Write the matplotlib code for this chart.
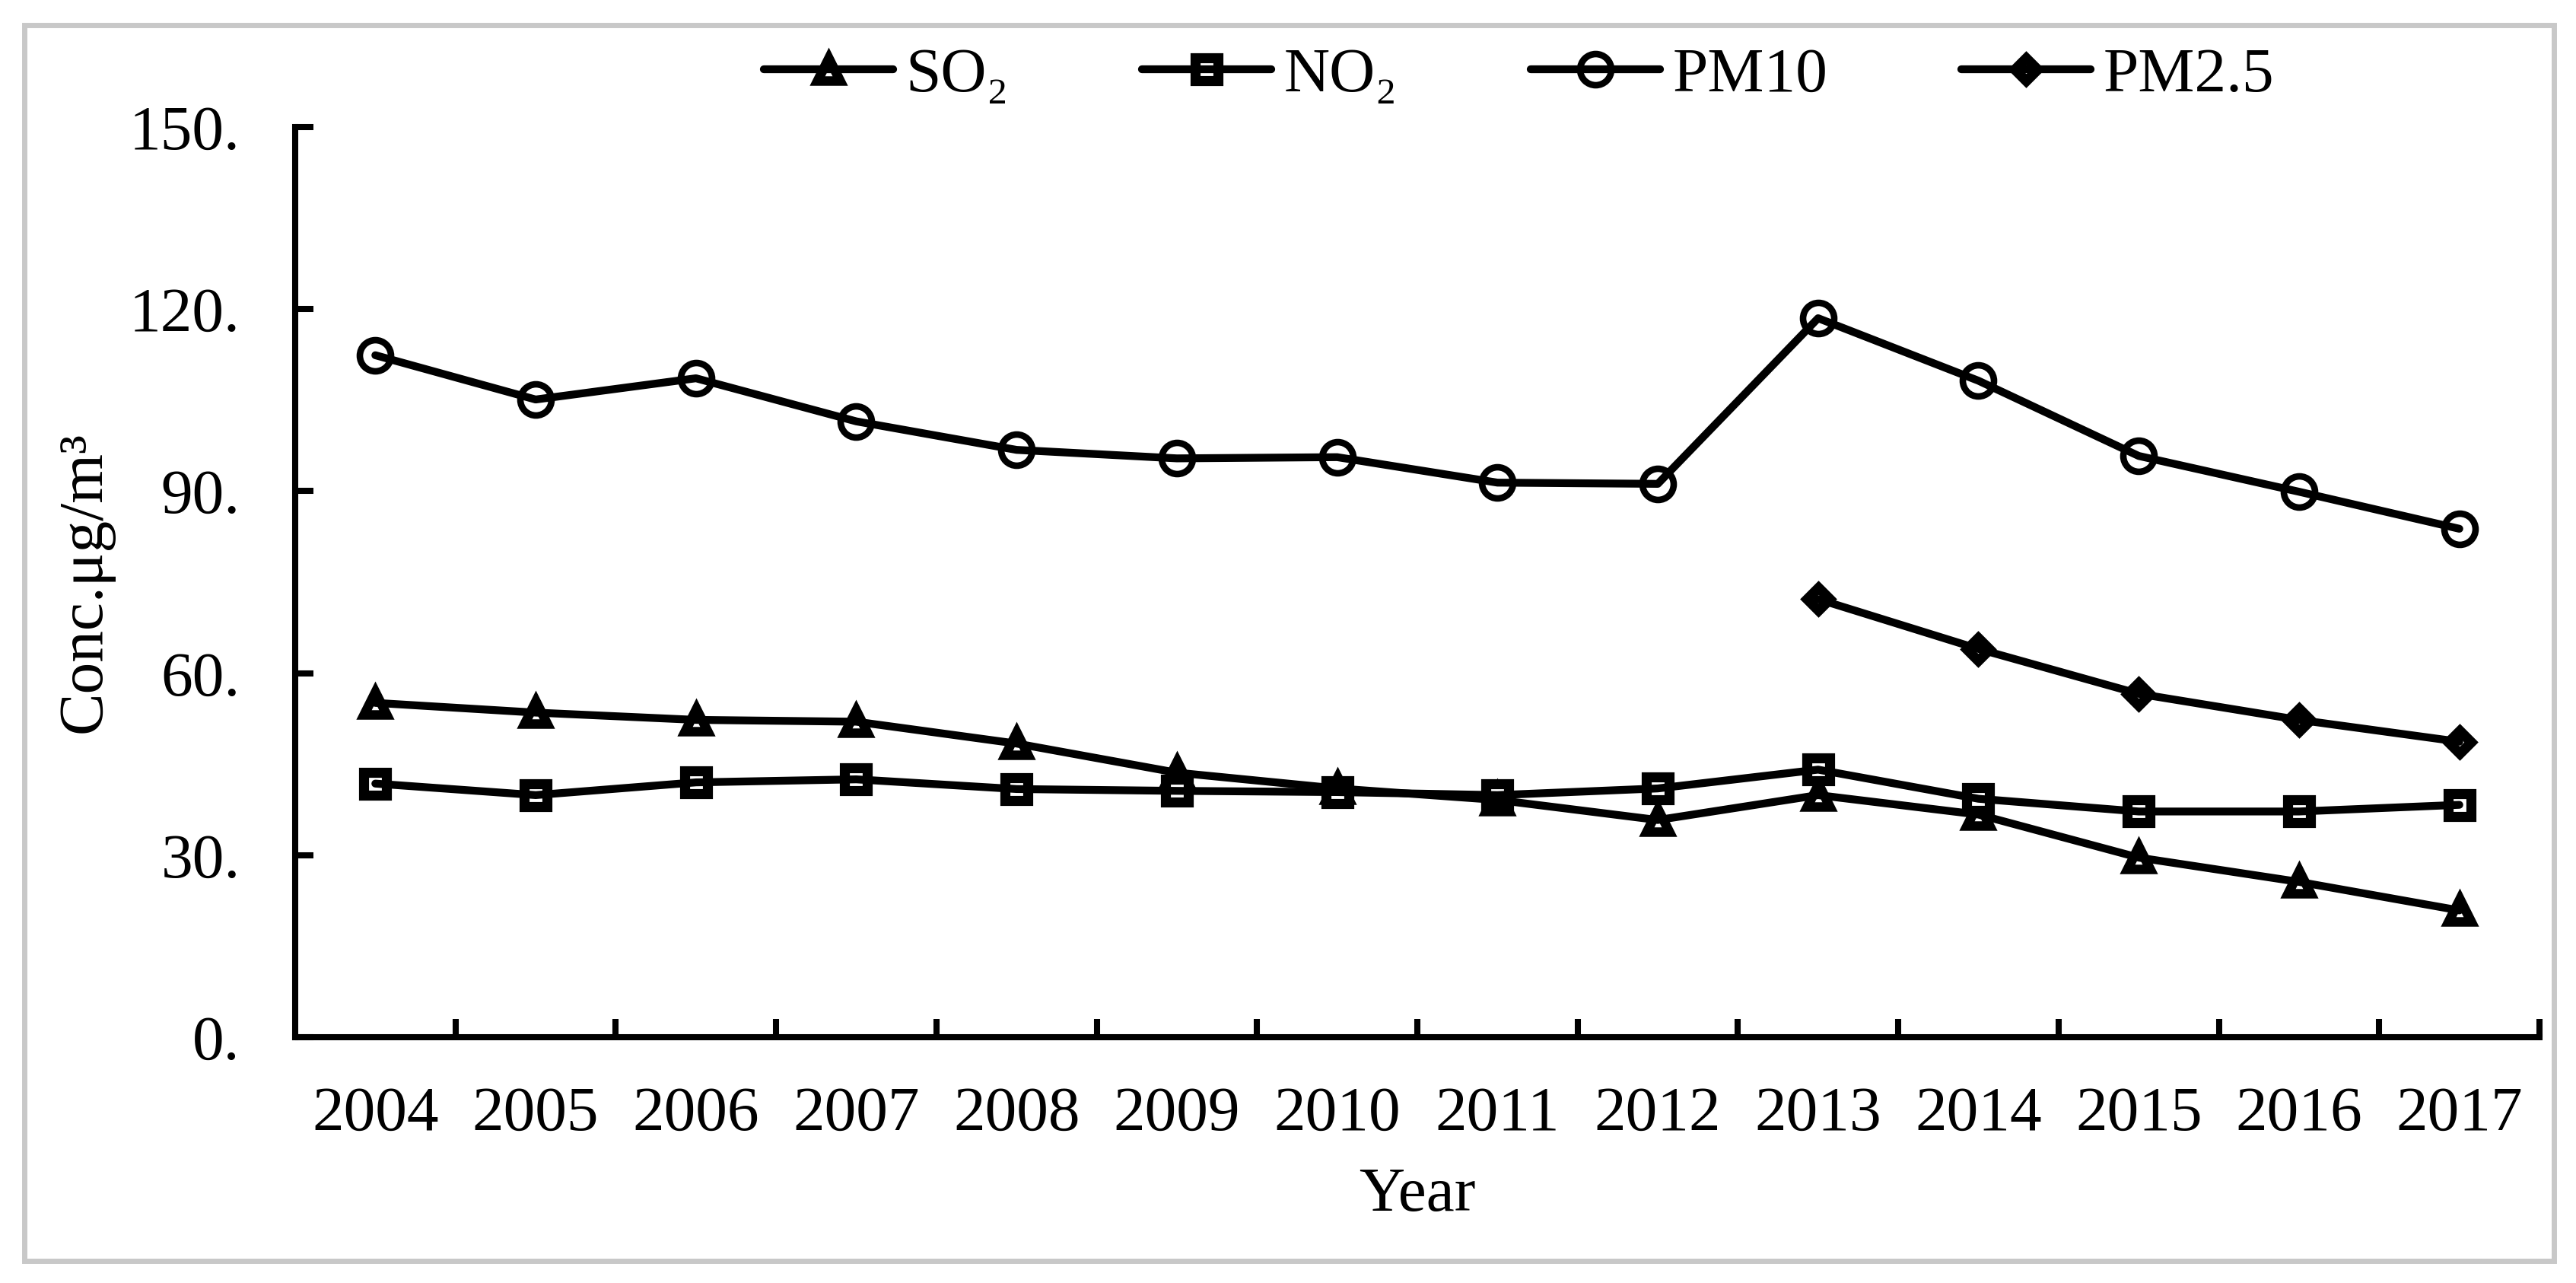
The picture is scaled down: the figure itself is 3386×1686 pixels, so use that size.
import matplotlib
matplotlib.use('Agg')
import matplotlib.pyplot as plt
from matplotlib.patches import Rectangle
from matplotlib.ticker import FixedLocator, FuncFormatter
from matplotlib.legend_handler import HandlerTuple

# ---- data ----
years = [str(y) for y in range(2004, 2018)]
so2 = [55.1, 53.5, 52.3, 52.0, 48.4, 43.6, 41.0, 39.1, 35.8, 39.9, 36.7, 29.6, 25.6, 20.9]
no2 = [41.8, 39.9, 42.0, 42.5, 40.9, 40.6, 40.4, 39.9, 41.0, 44.1, 39.3, 37.2, 37.2, 38.3]
pm10 = [112.4, 105.1, 108.6, 101.5, 96.8, 95.4, 95.6, 91.4, 91.2, 118.5, 108.2, 95.8, 89.9, 83.8]
pm25_years = ['2013', '2014', '2015', '2016', '2017']
pm25 = [72.2, 64.0, 56.6, 52.3, 48.7]
series_labels = ['SO₂', 'NO₂', 'PM10', 'PM2.5']
y_ticks = [0, 30, 60, 90, 120, 150]

plt.rcParams['font.family'] = ['Liberation Serif', 'DejaVu Serif']

W, H = 3387, 1686
fig = plt.figure(figsize=(W / 100, H / 100), dpi=100)
ax = fig.add_axes([388 / W, 1 - 1363 / H, (3338 - 388) / W, (1363 - 167) / H])

x_all = list(range(len(years)))
x_pm25 = [years.index(y) for y in pm25_years]

LW = 7.4
styles = [
    dict(marker='^', ms=21.5, mew=9.0),
    dict(marker='s', ms=21, mew=9.5),
    dict(marker='o', ms=29.5, mew=6.2),
    dict(marker='D', ms=15, mew=9.5),
]
data = [(x_all, so2), (x_all, no2), (x_all, pm10), (x_pm25, pm25)]

handles = []
for (xs, ys), st in zip(data, styles):
    mk = ax.plot(xs, ys, linestyle='none', marker=st['marker'], ms=st['ms'],
                 mew=st['mew'], mec='black', mfc='white', zorder=2, clip_on=False)[0]
    ln = ax.plot(xs, ys, color='black', lw=LW, solid_joinstyle='round',
                 solid_capstyle='round', zorder=3, clip_on=False)[0]
    handles.append((mk, ln))

ax.set_xlim(-0.5, len(years) - 0.5)
ax.set_ylim(0, 150)

for s in ['top', 'right']:
    ax.spines[s].set_visible(False)
for s in ['left', 'bottom']:
    ax.spines[s].set_linewidth(5.8)
    ax.spines[s].set_capstyle('projecting')

ax.xaxis.set_major_locator(FixedLocator(x_all))
ax.set_xticklabels(years)
ax.xaxis.set_minor_locator(FixedLocator([i + 0.5 for i in x_all]))
ax.tick_params(axis='x', which='major', length=0, pad=46, labelsize=60)
ax.tick_params(axis='x', which='minor', direction='in', length=17, width=5.8)

ax.yaxis.set_major_locator(FixedLocator(y_ticks))
ax.yaxis.set_major_formatter(FuncFormatter(lambda v, p: f"{v:.0f}."))
ax.tick_params(axis='y', which='major', direction='in', length=17, width=5.8,
               pad=52, labelsize=60)

ax.set_xlabel('Year', fontsize=60, va='top')
ax.xaxis.set_label_coords(0.5, (1363 - 1533) / 1196)
ax.set_ylabel('Conc.μg/m³', fontsize=60)
ax.yaxis.set_label_coords((150 - 388) / (3338 - 388), 0.5)

fig.legend(handles, series_labels, loc='center left',
           bbox_to_anchor=(1004 / W, 1 - 100 / H), ncol=4, frameon=False,
           borderpad=0, borderaxespad=0, handlelength=2.04, handletextpad=0.2,
           columnspacing=2.1, fontsize=60,
           handler_map={tuple: HandlerTuple(ndivide=1)})

fig.add_artist(Rectangle((32 / W, 1 - 1657 / H), (3357 - 32) / W, (1657 - 33) / H,
                         transform=fig.transFigure, fill=False,
                         ec='#c8c8c8', lw=5))

fig.savefig('out.png', dpi=100)
